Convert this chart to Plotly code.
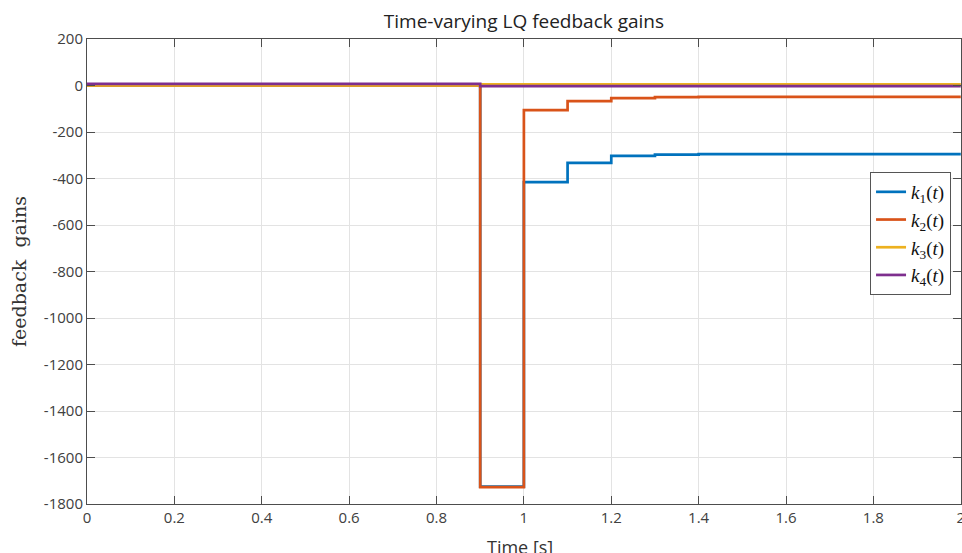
import plotly.graph_objects as go

# Sample times (zero-order hold, 0.1 s steps)
t = [0.0, 0.1, 0.2, 0.3, 0.4, 0.5, 0.6, 0.7, 0.8, 0.9, 1.0,
     1.1, 1.2, 1.3, 1.4, 1.5, 1.6, 1.7, 1.8, 1.9, 2.0]

k1 = [0, 0, 0, 0, 0, 0, 0, 0, 0, -1725, -416,
      -333, -303, -297, -295, -295, -295, -295, -295, -295, -295]
k2 = [0, 0, 0, 0, 0, 0, 0, 0, 0, -1727, -106,
      -67, -54, -50, -49, -49, -49, -49, -49, -49, -49]
k3 = [0, 0, 0, 0, 0, 0, 0, 0, 0, 5, 5,
      5, 5, 5, 5, 5, 5, 5, 5, 5, 5]
k4 = [7, 7, 7, 7, 7, 7, 7, 7, 7, -3, -3,
      -3, -3, -3, -3, -3, -3, -3, -3, -3, -3]

names = ["<i>k</i><sub>1</sub>(<i>t</i>)", "<i>k</i><sub>2</sub>(<i>t</i>)",
         "<i>k</i><sub>3</sub>(<i>t</i>)", "<i>k</i><sub>4</sub>(<i>t</i>)"]
colors = ["#0072BD", "#D95319", "#EDB120", "#7E2F8E"]

x_ticks = [0, 0.2, 0.4, 0.6, 0.8, 1, 1.2, 1.4, 1.6, 1.8, 2]
x_tick_labels = ["0", "0.2", "0.4", "0.6", "0.8", "1", "1.2", "1.4", "1.6", "1.8", "2"]
y_ticks = [200, 0, -200, -400, -600, -800, -1000, -1200, -1400, -1600, -1800]
y_tick_labels = ["200", "0", "-200", "-400", "-600", "-800", "-1000", "-1200",
                 "-1400", "-1600", "-1800"]

fig = go.Figure()
for series, name, color in zip([k1, k2, k3, k4], names, colors):
    fig.add_trace(go.Scatter(x=t, y=series, mode="lines", name=name,
                             line=dict(color=color, width=2.7, shape="hv")))

axis_common = dict(
    showline=True, linecolor="#4d4d4d", linewidth=1, mirror="ticks",
    ticks="inside", ticklen=8, tickcolor="#4d4d4d", tickwidth=1,
    showgrid=True, gridcolor="#e3e3e3", gridwidth=1, zeroline=False,
    tickfont=dict(family="Open Sans", size=15, color="#404040"),
    ticklabeloverflow="allow",
)

fig.update_layout(
    width=966, height=553,
    margin=dict(l=87, r=1, t=39, b=49),
    plot_bgcolor="white", paper_bgcolor="white",
    title=dict(text="Time-varying LQ feedback gains", x=0.5424, xanchor="center",
               y=0.962, yanchor="middle",
               font=dict(family="Open Sans", size=19, color="#222222")),
    xaxis=dict(range=[0, 2.0005], tickvals=x_ticks, ticktext=x_tick_labels,
               **axis_common),
    yaxis=dict(range=[-1800, 200], tickvals=y_ticks, ticktext=y_tick_labels,
               title=dict(text="feedback  gains", standoff=12,
                          font=dict(family="DejaVu Serif", size=19, color="#333333")),
               **axis_common),
    showlegend=True,
    legend=dict(x=0.9886, y=0.714, xanchor="right", yanchor="top",
                bgcolor="white", bordercolor="#555555", borderwidth=1,
                font=dict(family="Liberation Serif", size=19, color="#111111"),
                tracegroupgap=0, itemwidth=30,
                traceorder="normal"),
    annotations=[dict(text="Time [s]", xref="paper", yref="paper",
                      x=0.495, y=-0.092, xanchor="center", yanchor="middle",
                      showarrow=False,
                      font=dict(family="Open Sans", size=18, color="#333333"))],
)

fig.write_html("out.html", config={"displayModeBar": False},
               post_script="document.body.style.margin='0px';document.body.style.overflow='hidden';")
